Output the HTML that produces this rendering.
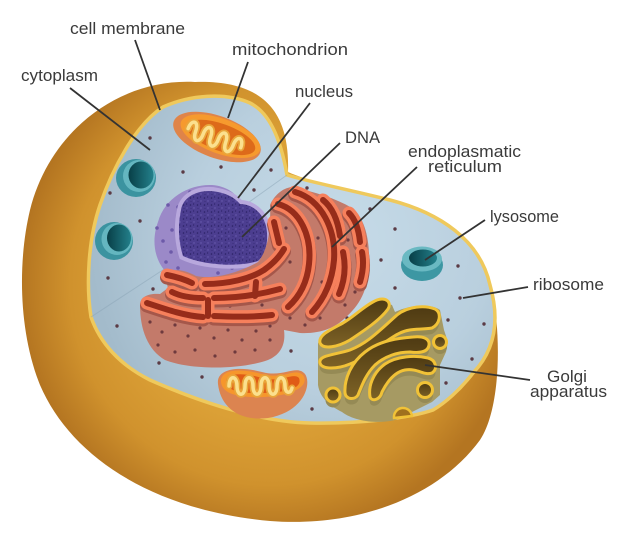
<!DOCTYPE html>
<html><head><meta charset="utf-8">
<style>
html,body{margin:0;padding:0;background:#fff;}
svg{display:block;}
text{font-family:"Liberation Sans",Arial,sans-serif;font-size:16.5px;fill:#3a3a3a;}
</style></head><body>
<svg width="629" height="544" viewBox="0 0 629 544" xmlns="http://www.w3.org/2000/svg">
<defs>
<radialGradient id="shell" cx="270" cy="285" r="250" gradientUnits="userSpaceOnUse">
 <stop offset="0.55" stop-color="#dba036"/>
 <stop offset="0.8" stop-color="#d0922d"/>
 <stop offset="1" stop-color="#b47521"/>
</radialGradient>
<radialGradient id="face" cx="340" cy="240" r="250" gradientUnits="userSpaceOnUse">
 <stop offset="0" stop-color="#c6dbe8"/>
 <stop offset="0.6" stop-color="#b9cfde"/>
 <stop offset="1" stop-color="#a3bbcb"/>
</radialGradient>
<linearGradient id="hole" x1="0" y1="0" x2="1" y2="0">
 <stop offset="0" stop-color="#083f47"/>
 <stop offset="1" stop-color="#23808b"/>
</linearGradient>
<linearGradient id="gdark" x1="0" y1="0" x2="0" y2="1">
 <stop offset="0" stop-color="#4e3a12"/>
 <stop offset="1" stop-color="#7d6226"/>
</linearGradient>
<pattern id="spk" width="7" height="7" patternUnits="userSpaceOnUse">
 <rect width="7" height="7" fill="#4c3e90"/>
 <circle cx="1.5" cy="2" r="0.8" fill="#2b2165"/>
 <circle cx="5" cy="5" r="0.7" fill="#6b5db2"/>
 <circle cx="4.6" cy="1" r="0.6" fill="#2b2165"/>
 <circle cx="2" cy="5.5" r="0.6" fill="#3a2e7a"/>
</pattern>
</defs>

<!-- outer shell -->
<path d="M288,172 C290,110 262,80 195,82 C120,78 50,130 30,210 C18,260 18,330 40,385 C70,455 150,510 270,521 C360,528 440,495 480,440 C500,410 502,340 492,288 C480,240 440,213 390,200 C350,190 310,182 288,172 Z" fill="url(#shell)"/>

<!-- cut face -->
<path d="M287,175 C310,182 350,190 390,200 C440,213 480,240 490,285 C500,320 495,350 473,373 C460,390 445,403 433,410 C410,418 360,424 310,423 C260,422 200,402 150,380 C120,365 100,343 91,317 C86,285 88,240 100,205 C112,170 135,125 163,107 C190,95 225,92 250,103 C268,112 280,135 287,175 Z" fill="url(#face)" stroke="#efc95c" stroke-width="3.5"/>
<path d="M91,317 L175,262 M287,175 L245,205" stroke="#8aa3b5" stroke-width="1" opacity="0.5" fill="none"/>

<!-- ribosomes -->
<g fill="#5b3b45">
<circle cx="150" cy="138" r="1.7"/><circle cx="110" cy="193" r="1.7"/><circle cx="140" cy="221" r="1.7"/>
<circle cx="108" cy="278" r="1.7"/><circle cx="153" cy="289" r="1.7"/><circle cx="117" cy="326" r="1.7"/>
<circle cx="183" cy="172" r="1.7"/><circle cx="221" cy="167" r="1.7"/><circle cx="271" cy="170" r="1.7"/>
<circle cx="254" cy="190" r="1.7"/><circle cx="307" cy="188" r="1.7"/><circle cx="370" cy="209" r="1.7"/>
<circle cx="395" cy="229" r="1.7"/><circle cx="381" cy="260" r="1.7"/><circle cx="458" cy="266" r="1.7"/>
<circle cx="395" cy="288" r="1.7"/><circle cx="460" cy="298" r="1.7"/><circle cx="347" cy="318" r="1.7"/>
<circle cx="448" cy="320" r="1.7"/><circle cx="484" cy="324" r="1.7"/><circle cx="472" cy="359" r="1.7"/>
<circle cx="446" cy="383" r="1.7"/><circle cx="312" cy="409" r="1.7"/><circle cx="159" cy="363" r="1.7"/>
<circle cx="202" cy="377" r="1.7"/><circle cx="291" cy="351" r="1.7"/>
</g>

<!-- top mitochondrion -->
<g transform="translate(217,137) rotate(20)">
 <ellipse rx="46" ry="21" fill="#df8449"/>
 <ellipse cx="3" cy="-2" rx="42" ry="17.5" fill="#f69a2e"/>
 <ellipse cx="4" cy="-1" rx="36" ry="13.5" fill="#dd6a1a"/>
 <path d="M-30,2 c0,-11 8,-11 8,0 c0,11 8,11 8,0 c0,-11 8,-11 8,0 c0,11 8,11 8,0 c0,-11 8,-11 8,0 c0,11 8,11 8,0 c0,-11 8,-11 8,0" fill="none" stroke="#e9a53a" stroke-width="7" stroke-linecap="round"/>
 <path d="M-30,2 c0,-11 8,-11 8,0 c0,11 8,11 8,0 c0,-11 8,-11 8,0 c0,11 8,11 8,0 c0,-11 8,-11 8,0 c0,11 8,11 8,0 c0,-11 8,-11 8,0" fill="none" stroke="#fbe08e" stroke-width="3.5" stroke-linecap="round"/>
</g>

<!-- bottom mitochondrion -->
<path d="M218,384 C216,368 240,366 262,372 C284,378 296,364 305,374 C312,384 304,412 268,418 C236,422 220,404 218,384 Z" fill="#dc8450"/>
<path d="M221,382 C220,369 240,368 262,374 C284,380 295,367 303,375 C309,383 300,395 264,397 C236,398 222,393 221,382Z" fill="#f6962c"/>
<path d="M226,382 C226,373 242,372 262,378 C282,383 293,372 299,378 C302,386 294,392 264,393 C238,394 227,390 226,382Z" fill="#e05c16"/>
<path d="M229,386 c0,-11 8,-11 8,0 c0,11 8,11 8,0 c0,-11 8,-11 8,0 c0,11 8,11 8,0 c0,-11 8,-11 8,0 c0,11 8,11 8,0 c0,-11 8,-11 8,0 c0,8 6,8 7,2" fill="none" stroke="#e9a53a" stroke-width="7" stroke-linecap="round"/>
<path d="M229,386 c0,-11 8,-11 8,0 c0,11 8,11 8,0 c0,-11 8,-11 8,0 c0,11 8,11 8,0 c0,-11 8,-11 8,0 c0,11 8,11 8,0 c0,-11 8,-11 8,0 c0,8 6,8 7,2" fill="none" stroke="#fbe08e" stroke-width="3.5" stroke-linecap="round"/>

<!-- vesicles -->
<ellipse cx="136" cy="178" rx="20" ry="19" fill="#3b93a0"/>
<ellipse cx="139" cy="176" rx="16" ry="16" fill="#64b6c0"/>
<ellipse cx="141" cy="175" rx="12.5" ry="13.5" fill="url(#hole)"/>
<ellipse cx="114" cy="241" rx="19" ry="19" fill="#3b93a0"/>
<ellipse cx="117" cy="239" rx="15.5" ry="16" fill="#64b6c0"/>
<ellipse cx="119" cy="238" rx="12" ry="13.5" fill="url(#hole)"/>
<ellipse cx="422" cy="265" rx="21" ry="16" fill="#3d97a3"/>
<ellipse cx="422" cy="259" rx="20" ry="12.5" fill="#6ab9c2"/>
<ellipse cx="423" cy="258" rx="14" ry="8.5" fill="url(#hole)"/>

<!-- nucleus -->
<path d="M158,222 C165,197 190,184 212,185 C226,186 236,193 240,202 C248,203 262,208 268,222 C274,240 272,262 262,276 C245,292 185,290 166,272 C153,258 152,238 158,222 Z" fill="#9b89c8"/>
<g fill="#6d5aa9">
<circle cx="190" cy="192" r="1.8"/><circle cx="168" cy="205" r="1.8"/><circle cx="157" cy="228" r="1.8"/>
<circle cx="163" cy="241" r="1.8"/><circle cx="171" cy="252" r="1.8"/><circle cx="166" cy="262" r="1.8"/>
<circle cx="178" cy="268" r="1.8"/><circle cx="218" cy="273" r="1.8"/><circle cx="232" cy="268" r="1.8"/>
<circle cx="264" cy="248" r="1.8"/><circle cx="178" cy="207" r="1.8"/><circle cx="172" cy="230" r="1.8"/>
</g>
<path d="M181,210 C183,196 200,188 218,192 C228,194 235,198 240,204 C252,204 263,213 266,226 C269,240 266,254 258,261 C240,267 205,266 183,256 C178,240 178,224 181,210 Z" fill="none" stroke="#b8a8dd" stroke-width="8"/>
<path d="M181,210 C183,196 200,188 218,192 C228,194 235,198 240,204 C252,204 263,213 266,226 C269,240 266,254 258,261 C240,267 205,266 183,256 C178,240 178,224 181,210 Z" fill="url(#spk)"/>

<!-- ER body -->
<path d="M140,305 C140,296 150,293 160,294 L168,288 L165,277 C168,268 182,268 196,276 C215,280 240,272 258,262 C268,250 271,230 270,205 C274,196 282,188 292,187 C315,192 335,198 352,208 C365,218 370,240 369,265 C368,290 360,305 345,318 C335,328 320,334 300,333 L284,330 C286,345 280,355 268,360 C240,370 190,370 165,360 C148,350 140,330 140,305 Z" fill="#c37a6a"/>
<g fill="#6e3a3e">
<circle cx="150" cy="322" r="1.6"/><circle cx="162" cy="332" r="1.6"/><circle cx="175" cy="325" r="1.6"/>
<circle cx="188" cy="336" r="1.6"/><circle cx="200" cy="328" r="1.6"/><circle cx="214" cy="338" r="1.6"/>
<circle cx="228" cy="330" r="1.6"/><circle cx="242" cy="340" r="1.6"/><circle cx="256" cy="331" r="1.6"/>
<circle cx="270" cy="340" r="1.6"/><circle cx="158" cy="345" r="1.6"/><circle cx="175" cy="352" r="1.6"/>
<circle cx="195" cy="350" r="1.6"/><circle cx="215" cy="356" r="1.6"/><circle cx="235" cy="352" r="1.6"/>
<circle cx="255" cy="350" r="1.6"/><circle cx="270" cy="326" r="1.6"/><circle cx="185" cy="304" r="1.6"/>
<circle cx="230" cy="306" r="1.6"/><circle cx="262" cy="305" r="1.6"/><circle cx="290" cy="318" r="1.6"/>
<circle cx="305" cy="325" r="1.6"/><circle cx="320" cy="318" r="1.6"/><circle cx="300" cy="290" r="1.6"/>
<circle cx="322" cy="282" r="1.6"/><circle cx="318" cy="238" r="1.6"/><circle cx="286" cy="228" r="1.6"/>
<circle cx="290" cy="262" r="1.6"/><circle cx="345" cy="305" r="1.6"/><circle cx="355" cy="292" r="1.6"/>
<circle cx="348" cy="240" r="1.6"/><circle cx="230" cy="290" r="1.6"/><circle cx="195" cy="288" r="1.6"/>
</g>
<!-- ER channels -->
<g fill="none" stroke-linecap="round">
 <g stroke="#a5574a" stroke-width="14" transform="translate(0,2.5)">
  <path d="M147,303 C165,309 185,316 203,317"/><path d="M214,316 C235,317 255,317 272,315"/>
  <path d="M172,292 C180,296 192,298 203,298"/><path d="M214,298 C240,298 262,294 280,289"/>
  <path d="M167,275 C177,277 186,280 192,283"/><path d="M205,284 C228,284 250,279 264,270 C274,263 280,256 284,249"/>
  <path d="M274,222 L279,243"/>
  <path d="M278,204 C300,210 312,236 309,264 C307,284 298,298 288,307"/>
  <path d="M295,192 C322,200 336,230 334,260 C332,283 323,300 312,312"/>
  <path d="M323,200 C333,208 338,222 340,236"/><path d="M343,252 C346,266 345,280 339,294"/>
  <path d="M349,213 C356,220 359,232 360,242"/><path d="M362,252 C364,262 363,272 360,282"/>
 </g>
 <g stroke="#f6805c" stroke-width="13">
  <path d="M147,303 C165,309 185,316 203,317"/><path d="M214,316 C235,317 255,317 272,315"/>
  <path d="M172,292 C180,296 192,298 203,298"/><path d="M214,298 C240,298 262,294 280,289"/>
  <path d="M167,275 C177,277 186,280 192,283"/><path d="M205,284 C228,284 250,279 264,270 C274,263 280,256 284,249"/>
  <path d="M274,222 L279,243"/>
  <path d="M278,204 C300,210 312,236 309,264 C307,284 298,298 288,307"/>
  <path d="M295,192 C322,200 336,230 334,260 C332,283 323,300 312,312"/>
  <path d="M323,200 C333,208 338,222 340,236"/><path d="M343,252 C346,266 345,280 339,294"/>
  <path d="M349,213 C356,220 359,232 360,242"/><path d="M362,252 C364,262 363,272 360,282"/>
  <path d="M208,300 L208,316"/><path d="M256,282 L255,296"/>
 </g>
 <g stroke="#962c1a" stroke-width="6">
  <path d="M147,303 C165,309 185,316 203,317"/><path d="M214,316 C235,317 255,317 272,315"/>
  <path d="M172,292 C180,296 192,298 203,298"/><path d="M214,298 C240,298 262,294 280,289"/>
  <path d="M167,275 C177,277 186,280 192,283"/><path d="M205,284 C228,284 250,279 264,270 C274,263 280,256 284,249"/>
  <path d="M274,222 L279,243"/>
  <path d="M278,204 C300,210 312,236 309,264 C307,284 298,298 288,307"/>
  <path d="M295,192 C322,200 336,230 334,260 C332,283 323,300 312,312"/>
  <path d="M323,200 C333,208 338,222 340,236"/><path d="M343,252 C346,266 345,280 339,294"/>
  <path d="M349,213 C356,220 359,232 360,242"/><path d="M362,252 C364,262 363,272 360,282"/>
  <path d="M208,300 L208,316"/><path d="M256,282 L255,296"/>
 </g>
</g>

<!-- Golgi -->
<path d="M318,343 C330,330 360,315 378,300 L392,305 L395,312 C410,305 430,303 440,310 L444,330 L448,342 L446,352 L440,365 L440,395 L432,402 L420,408 L412,412 L395,420 C380,424 355,422 342,412 C330,406 320,398 318,385 Z" fill="#a69a63"/>
<g fill="#958a55">
 <path transform="translate(0,6)" d="M320,363 C318,355 335,355 350,350 C368,343 380,330 397,315 C408,306 425,305 435,309 C442,313 440,324 432,328 C420,330 410,328 400,333 C385,340 370,356 350,364 C338,369 322,370 320,363 Z"/>
 <path transform="translate(0,6)" d="M345,393 C344,378 352,362 365,352 C380,340 400,338 413,337 C422,336 430,338 429,345 C428,353 418,353 410,352 C398,352 385,356 375,365 C366,374 362,385 358,395 C355,400 346,400 345,393 Z"/>
 <path transform="translate(0,6)" d="M370,397 C368,385 374,372 385,364 C397,356 415,355 428,358 C436,360 438,369 432,373 C424,376 418,368 405,370 C395,372 388,380 382,392 C380,400 372,402 370,397 Z"/>
 <circle cx="333" cy="400" r="7.5"/><circle cx="425" cy="395" r="8"/><circle cx="440" cy="347" r="7"/>
</g>
<g fill="url(#gdark)" stroke="#f1c237" stroke-width="3">
 <path d="M320,343 C318,335 330,330 343,323 C355,316 365,305 377,300 C386,297 392,302 388,309 C380,320 365,330 350,340 C338,347 323,350 320,343 Z"/>
 <path d="M320,363 C318,355 335,355 350,350 C368,343 380,330 397,315 C408,306 425,305 435,309 C442,313 440,324 432,328 C420,330 410,328 400,333 C385,340 370,356 350,364 C338,369 322,370 320,363 Z"/>
 <path d="M345,393 C344,378 352,362 365,352 C380,340 400,338 413,337 C422,336 430,338 429,345 C428,353 418,353 410,352 C398,352 385,356 375,365 C366,374 362,385 358,395 C355,400 346,400 345,393 Z"/>
 <path d="M370,397 C368,385 374,372 385,364 C397,356 415,355 428,358 C436,360 438,369 432,373 C424,376 418,368 405,370 C395,372 388,380 382,392 C380,400 372,402 370,397 Z"/>
 <circle cx="333" cy="395" r="7"/><circle cx="440" cy="342" r="6.5"/><circle cx="425" cy="390" r="7.5"/>
</g>
<path d="M394,418 A9,9 0 0 1 412,416 Z" fill="#a0701e" stroke="#f1c237" stroke-width="2.5"/>

<!-- leader lines -->
<g stroke="#333" stroke-width="1.8" fill="none">
 <path d="M135,40 L160,110"/>
 <path d="M248,62 L228,118"/>
 <path d="M70,88 L150,150"/>
 <path d="M310,103 L238,198"/>
 <path d="M340,143 L242,237"/>
 <path d="M417,167 L332,247"/>
 <path d="M485,220 L425,260"/>
 <path d="M528,287 L463,298"/>
 <path d="M530,380 L425,365"/>
</g>

<!-- labels -->
<text x="70" y="34" textLength="115" lengthAdjust="spacingAndGlyphs">cell membrane</text>
<text x="232" y="55" textLength="116" lengthAdjust="spacingAndGlyphs">mitochondrion</text>
<text x="21" y="81" textLength="77" lengthAdjust="spacingAndGlyphs">cytoplasm</text>
<text x="295" y="97" textLength="58" lengthAdjust="spacingAndGlyphs">nucleus</text>
<text x="345" y="143" textLength="35" lengthAdjust="spacingAndGlyphs">DNA</text>
<text x="408" y="157" textLength="113" lengthAdjust="spacingAndGlyphs">endoplasmatic</text>
<text x="428" y="172" textLength="74" lengthAdjust="spacingAndGlyphs">reticulum</text>
<text x="490" y="222" textLength="69" lengthAdjust="spacingAndGlyphs">lysosome</text>
<text x="533" y="290" textLength="71" lengthAdjust="spacingAndGlyphs">ribosome</text>
<text x="547" y="382" textLength="40" lengthAdjust="spacingAndGlyphs">Golgi</text>
<text x="530" y="397" textLength="77" lengthAdjust="spacingAndGlyphs">apparatus</text>
</svg>
</body></html>
